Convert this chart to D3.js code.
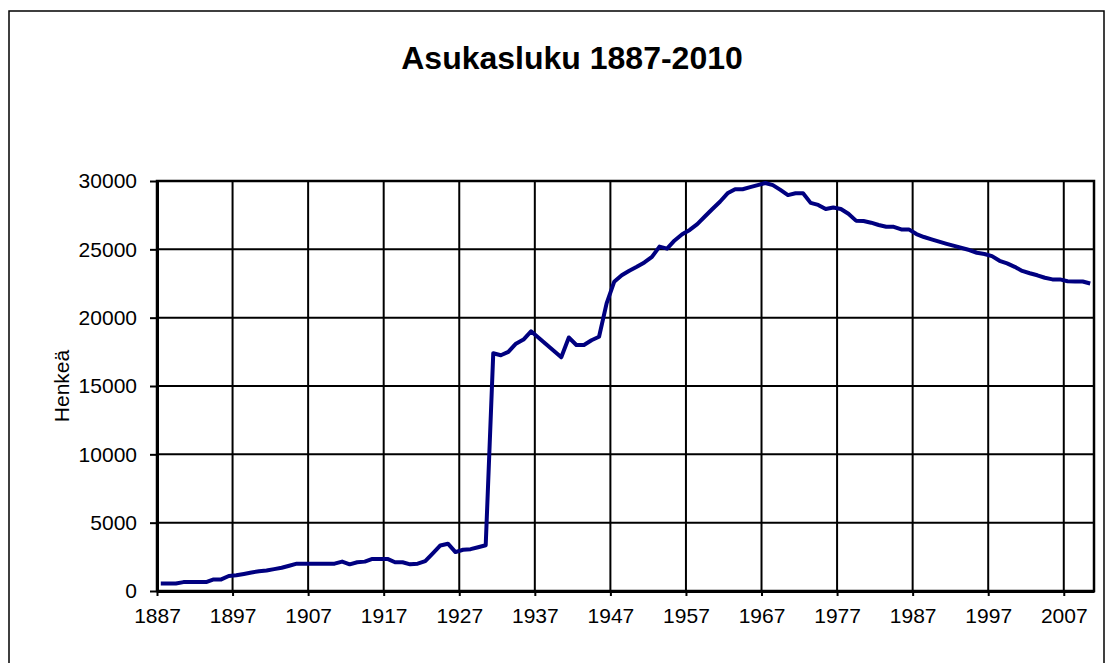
<!DOCTYPE html>
<html>
<head>
<meta charset="utf-8">
<title>Asukasluku 1887-2010</title>
<script src="https://cdn.jsdelivr.net/npm/d3@7/dist/d3.min.js"></script>
<style>
	body { margin: 0; background: #fff; }
	svg { display: block; font-family: "Liberation Sans", Arial, sans-serif; }
	.axis path, .axis line { stroke: #000; }
	.axis text { fill: #000; font-size: 21px; }
	.grid line { stroke: #000; stroke-width: 2; }
</style>
</head>
<body>
<div id="chart"></div>
<script>
"use strict";

var title = "Asukasluku 1887-2010";
var yTitle = "Henkeä";

var firstYear = 1887;
var population = [
	550, 550, 550, 650, 650, 650, 650, 850, 850, 1100,          // 1887-1896
	1150, 1250, 1350, 1450, 1500, 1600, 1700, 1850, 2000, 2000, // 1897-1906
	2000, 2000, 2000, 2000, 2150, 1950, 2100, 2150, 2350, 2350, // 1907-1916
	2350, 2100, 2100, 1950, 2000, 2180, 2750, 3330, 3460, 2850, // 1917-1926
	3020, 3060, 3200, 3350, 17400, 17250, 17500, 18100, 18400, 19000, // 1927-1936
	18530, 18050, 17580, 17100, 18550, 18000, 18000, 18350, 18600, 21050, // 1937-1946
	22620, 23100, 23430, 23720, 24040, 24450, 25200, 25050, 25650, 26100, // 1947-1956
	26420, 26850, 27400, 27950, 28480, 29100, 29400, 29400, 29550, 29700, // 1957-1966
	29850, 29700, 29350, 28970, 29100, 29100, 28400, 28250, 27950, 28060, // 1967-1976
	27950, 27600, 27100, 27070, 26950, 26780, 26650, 26650, 26460, 26460, // 1977-1986
	26120, 25900, 25730, 25560, 25400, 25250, 25100, 24950, 24750, 24660, // 1987-1996
	24500, 24160, 23970, 23720, 23420, 23250, 23100, 22920, 22800, 22800, // 1997-2006
	22660, 22650, 22650, 22500                                  // 2007-2010
];
var years = population.map(function(d, i) { return firstYear + i; });

var xTickYears = d3.range(1887, 2010, 10);
var yTickValues = [0, 5000, 10000, 15000, 20000, 25000, 30000];

var width = 1114,
	height = 663;
var plot = {left: 157, top: 181, right: 1094, bottom: 591};

var svg = d3.select("#chart").append("svg")
	.attr("width", width)
	.attr("height", height);

// chart area border
svg.append("rect")
	.attr("x", 9)
	.attr("y", 11)
	.attr("width", 1095)
	.attr("height", 680)
	.attr("fill", "#fff")
	.attr("stroke", "#000")
	.attr("stroke-width", 1.5);

// categories sit between tick marks, so the axis runs one year past the data
var x = d3.scaleLinear()
	.domain([firstYear, years[years.length - 1] + 1])
	.range([plot.left, plot.right]);

var y = d3.scaleLinear()
	.domain([0, 30000])
	.range([plot.bottom, plot.top]);

svg.append("g")
	.attr("class", "grid")
	.selectAll("line.h")
	.data(yTickValues.slice(1))
	.enter().append("line")
		.attr("x1", plot.left)
		.attr("x2", plot.right)
		.attr("y1", function(d) { return y(d); })
		.attr("y2", function(d) { return y(d); });

svg.select(".grid")
	.selectAll("line.v")
	.data(xTickYears.slice(1).concat([years[years.length - 1] + 1]))
	.enter().append("line")
		.attr("x1", function(d) { return x(d); })
		.attr("x2", function(d) { return x(d); })
		.attr("y1", plot.top)
		.attr("y2", plot.bottom);

svg.append("rect")
	.attr("x", plot.left)
	.attr("y", plot.top)
	.attr("width", plot.right - plot.left)
	.attr("height", plot.bottom - plot.top)
	.attr("fill", "none")
	.attr("stroke", "#000")
	.attr("stroke-width", 2.5);

var xAxis = d3.axisBottom(x)
	.tickValues(xTickYears)
	.tickFormat(d3.format("d"))
	.tickSize(5)
	.tickPadding(12)
	.tickSizeOuter(0);

var yAxis = d3.axisLeft(y)
	.tickValues(yTickValues)
	.tickFormat(d3.format("d"))
	.tickSize(7)
	.tickPadding(13)
	.tickSizeOuter(0);

var gx = svg.append("g")
	.attr("class", "axis")
	.attr("transform", "translate(0," + plot.bottom + ")")
	.call(xAxis);
gx.select(".domain").attr("stroke-width", 3);
gx.selectAll(".tick line").attr("stroke-width", 2);
gx.selectAll("text").attr("font-family", "Liberation Sans, Arial, sans-serif");

var gy = svg.append("g")
	.attr("class", "axis")
	.attr("transform", "translate(" + plot.left + ",0)")
	.call(yAxis);
gy.select(".domain").attr("stroke-width", 3);
gy.selectAll(".tick line").attr("stroke-width", 2);
gy.selectAll("text").attr("font-family", "Liberation Sans, Arial, sans-serif");

var line = d3.line()
	.x(function(d, i) { return x(years[i] + 0.5); })
	.y(function(d) { return y(d); });

svg.append("path")
	.datum(population)
	.attr("fill", "none")
	.attr("stroke", "#000080")
	.attr("stroke-width", 4)
	.attr("stroke-linejoin", "round")
	.attr("d", line);

svg.append("text")
	.attr("x", 572)
	.attr("y", 69)
	.attr("text-anchor", "middle")
	.style("font-size", "32px")
	.style("font-weight", "bold")
	.text(title);

svg.append("text")
	.attr("transform", "translate(69," + ((plot.top + plot.bottom) / 2) + ") rotate(-90)")
	.attr("text-anchor", "middle")
	.style("font-size", "21px")
	.text(yTitle);
</script>
</body>
</html>
